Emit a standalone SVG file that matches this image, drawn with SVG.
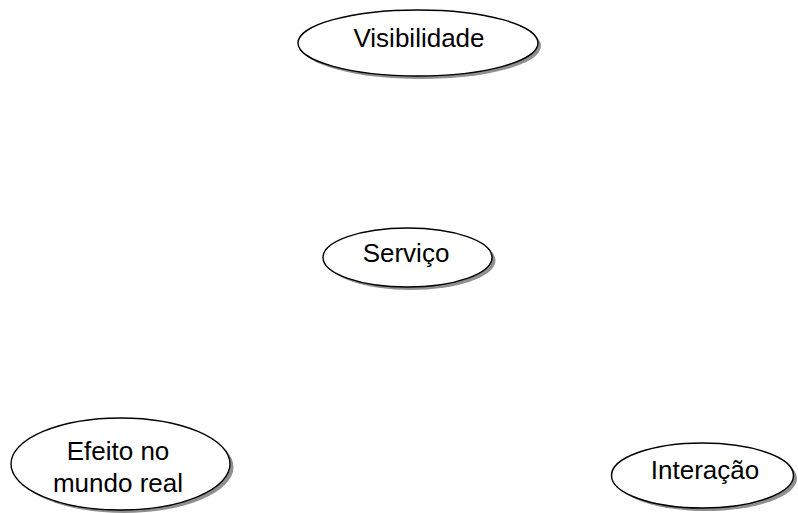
<svg xmlns="http://www.w3.org/2000/svg" width="798" height="513" viewBox="0 0 798 513">
  <style>
    .shadow { fill: #8f8f8f; stroke: none; }
    .shape { fill: #ffffff; stroke: #000000; stroke-width: 1.4; }
    .label { font-family: "Liberation Sans", Arial, sans-serif; font-size: 26px; fill: #000000; text-anchor: middle; }
  </style>
  <rect width="798" height="513" fill="#ffffff"/>

  <g id="visibilidade">
    <ellipse class="shadow" cx="421" cy="46" rx="120" ry="33"/>
    <ellipse class="shape" cx="418" cy="43" rx="120" ry="33"/>
    <text class="label" x="419" y="47">Visibilidade</text>
  </g>

  <g id="servico">
    <ellipse class="shadow" cx="411" cy="260.5" rx="84.5" ry="29.5"/>
    <ellipse class="shape" cx="407.5" cy="257.5" rx="84.5" ry="29.5"/>
    <text class="label" x="406" y="262">Serviço</text>
  </g>

  <g id="efeito">
    <ellipse class="shadow" cx="124" cy="467" rx="109.5" ry="46"/>
    <ellipse class="shape" cx="120.5" cy="464" rx="109.5" ry="46"/>
    <text class="label" x="118" y="460">Efeito no</text>
    <text class="label" x="118" y="492">mundo real</text>
  </g>

  <g id="interacao">
    <ellipse class="shadow" cx="706" cy="478.5" rx="91" ry="32.5"/>
    <ellipse class="shape" cx="702.5" cy="475.5" rx="91" ry="32.5"/>
    <text class="label" x="705" y="479">Interação</text>
  </g>

  <g id="connectors"></g>
</svg>
